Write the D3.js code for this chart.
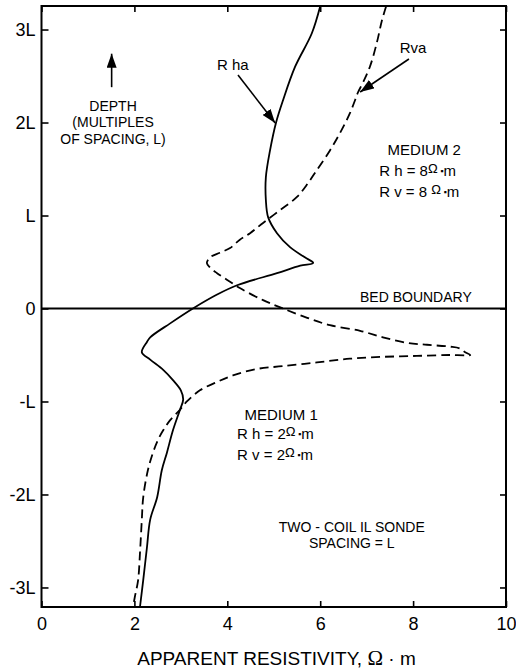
<!DOCTYPE html>
<html>
<head>
<meta charset="utf-8">
<script src="https://cdn.jsdelivr.net/npm/d3@7"></script>
<style>
  html, body { margin: 0; padding: 0; background: #fff; }
  svg { display: block; font-family: "Liberation Sans", Arial, sans-serif; }
</style>
</head>
<body>
<svg id="chart" width="516" height="672"></svg>
<script>
// Two-coil induction sonde response across a bed boundary.
// x: apparent resistivity (ohm-m), y: depth in multiples of coil spacing L.

const resTicks    = [0, 2, 4, 6, 8, 10];
const depthTicks  = [-3, -2, -1, 0, 1, 2, 3];
const depthLabels = ['-3L', '-2L', '-L', '0', 'L', '2L', '3L'];

// R ha (solid)
const rhaRes   = [6.00, 5.82, 5.46, 5.20, 5.05, 4.92, 4.83, 4.83, 4.88, 5.07, 5.35, 5.67, 5.85, 5.57, 5.07, 4.21, 3.78, 3.26,
                  2.77, 2.34, 2.27, 2.16, 2.34, 2.62, 2.83, 3.00, 3.05, 2.98, 2.83, 2.70, 2.59, 2.49, 2.34, 2.27, 2.19, 2.12];
const rhaDepth = [3.25, 2.96, 2.60, 2.24, 2.00, 1.70, 1.41, 1.17, 0.98, 0.81, 0.66, 0.55, 0.49, 0.46, 0.38, 0.25, 0.15, 0.00,
                  -0.16, -0.31, -0.36, -0.47, -0.55, -0.66, -0.77, -0.88, -0.98, -1.09, -1.31, -1.55, -1.74, -2.03, -2.27, -2.57, -2.92, -3.21];

// R va (dashed)
const rvaRes   = [7.42, 7.33, 7.22, 7.07, 6.92, 6.81, 6.75, 6.64, 6.43, 6.21, 5.93, 5.74, 5.50, 5.14, 4.77, 4.49, 4.27, 4.06, 3.84, 3.63,
                  3.56, 3.63, 3.78, 3.99, 4.27, 4.77, 5.20, 5.72, 6.21, 6.86, 7.35, 7.87, 8.30, 8.79, 9.01, 9.12, 9.23, 8.79, 8.08, 7.35,
                  6.64, 5.93, 5.20, 4.64, 4.12, 3.78, 3.41, 3.13, 2.98, 2.77, 2.62, 2.51, 2.40, 2.29, 2.19, 2.16, 2.12, 2.08, 2.01, 1.97];
const rvaDepth = [3.25, 3.10, 2.86, 2.60, 2.43, 2.32, 2.24, 2.10, 1.89, 1.70, 1.49, 1.35, 1.20, 1.06, 0.92, 0.81, 0.74, 0.65, 0.60, 0.55,
                  0.49, 0.44, 0.38, 0.31, 0.22, 0.09, 0.00, -0.10, -0.18, -0.24, -0.31, -0.37, -0.39, -0.41, -0.43, -0.47, -0.50, -0.50, -0.51, -0.52,
                  -0.54, -0.58, -0.62, -0.65, -0.72, -0.79, -0.88, -1.00, -1.09, -1.20, -1.31, -1.41, -1.55, -1.74, -2.03, -2.27, -2.63, -2.92, -3.10, -3.21];

const svg = d3.select('#chart');
const x = d3.scaleLinear().domain([0, 10]).range([41.5, 506]);
const y = d3.scaleLinear().domain([-3.21, 3.253]).range([607, 6]);
const [x0, x1] = x.range(), [y0, y1] = y.range();

// arrow head
svg.append('defs').append('marker')
  .attr('id', 'head').attr('viewBox', '0 0 14 10')
  .attr('refX', 14).attr('refY', 5)
  .attr('markerWidth', 14).attr('markerHeight', 10)
  .attr('markerUnits', 'userSpaceOnUse').attr('orient', 'auto')
  .append('path').attr('d', 'M0,0L14,5L0,10Z').attr('fill', '#000');

// -------- axes (ticks inward, mirrored on top/right) --------
function styleAxis(g) {
  g.select('.domain').remove();
  g.selectAll('.tick line').attr('stroke', '#000').attr('stroke-width', 1.6);
  g.selectAll('.tick text').attr('fill', '#000')
    .style('font-family', '"Liberation Sans", Arial, sans-serif')
    .style('font-size', '18px');
}

svg.append('g').attr('transform', `translate(0,${y0})`)
  .call(d3.axisBottom(x).tickValues(resTicks).tickSize(-6).tickPadding(10).tickFormat(d3.format('d')))
  .call(styleAxis);

svg.append('g').attr('transform', `translate(0,${y1})`)
  .call(d3.axisTop(x).tickValues(resTicks).tickSize(-6).tickFormat(''))
  .call(styleAxis);

svg.append('g').attr('transform', `translate(${x0},0)`)
  .call(d3.axisLeft(y).tickValues(depthTicks).tickSize(-7).tickPadding(6)
    .tickFormat((d, i) => depthLabels[i]))
  .call(styleAxis);

svg.append('g').attr('transform', `translate(${x1},0)`)
  .call(d3.axisRight(y).tickValues(depthTicks).tickSize(-6).tickFormat(''))
  .call(styleAxis);

// frame
svg.append('rect')
  .attr('x', x0).attr('y', y1).attr('width', x1 - x0).attr('height', y0 - y1)
  .attr('fill', 'none').attr('stroke', '#000').attr('stroke-width', 2);

// bed boundary
svg.append('line')
  .attr('x1', x0).attr('x2', x1).attr('y1', y(0)).attr('y2', y(0))
  .attr('stroke', '#000').attr('stroke-width', 2);

// -------- curves --------
const line = d3.line().x(d => x(d[0])).y(d => y(d[1])).curve(d3.curveCatmullRom.alpha(0.5));
const rha = rhaRes.map((v, i) => [v, rhaDepth[i]]);
const rva = rvaRes.map((v, i) => [v, rvaDepth[i]]);

svg.append('path').datum(rha).attr('d', line)
  .attr('fill', 'none').attr('stroke', '#000').attr('stroke-width', 1.8);
svg.append('path').datum(rva).attr('d', line)
  .attr('fill', 'none').attr('stroke', '#000').attr('stroke-width', 1.8)
  .attr('stroke-dasharray', '9,5');

// -------- annotations (placed in data units) --------
function arrow(a, b) {
  svg.append('line')
    .attr('x1', x(a[0])).attr('y1', y(a[1]))
    .attr('x2', x(b[0])).attr('y2', y(b[1]))
    .attr('stroke', '#000').attr('stroke-width', 1.6)
    .attr('marker-end', 'url(#head)');
}
function label(txt, v, d, anchor = 'middle', size = 15) {
  return svg.append('text')
    .attr('x', x(v)).attr('y', y(d))
    .attr('text-anchor', anchor)
    .attr('font-size', size)
    .text(txt);
}
// "R h = 8 Ω▪m" style line
function rLine(pre, v, d) {
  const t = svg.append('text').attr('x', x(v)).attr('y', y(d)).attr('font-size', 15);
  t.append('tspan').text(pre);
  t.append('tspan').attr('font-size', 13).attr('dy', -3).text('Ω');
  t.append('tspan').attr('font-size', 9).attr('dy', 1).text(' ▪');
  t.append('tspan').attr('dy', 2).text('m');
}

// depth arrow + caption (tight line spacing as in the original)
arrow([1.51, 2.38], [1.51, 2.74]);
label('DEPTH', 1.54, 2.125, 'middle', 14);
label('(MULTIPLES', 1.54, 1.952, 'middle', 14);
label('OF SPACING, L)', 1.54, 1.769, 'middle', 14);

// curve callouts
label('R ha', 4.12, 2.565);
arrow([4.23, 2.51], [5.03, 1.995]);
label('Rva', 8.00, 2.747);
arrow([7.91, 2.683], [6.86, 2.328]);

// medium 2
label('MEDIUM 2', 8.24, 1.65);
rLine('R h = 8', 7.27, 1.425);
rLine('R v = 8 ', 7.27, 1.199);

label('BED BOUNDARY', 8.06, 0.07, 'middle', 14);

// medium 1
label('MEDIUM 1', 5.16, -1.199);
rLine('R h = 2', 4.21, -1.403);
rLine('R v  = 2', 4.21, -1.629);

label('TWO - COIL IL SONDE', 6.68, -2.403, 'middle', 14);
label('SPACING = L', 6.68, -2.575, 'middle', 14);

// x title
const xt = svg.append('text')
  .attr('x', 276.5).attr('y', 665)
  .attr('text-anchor', 'middle').attr('font-size', 19);
xt.append('tspan').text('APPARENT RESISTIVITY,  ');
xt.append('tspan').style('font-family', '"Liberation Serif", serif').attr('font-size', 21).text('Ω');
xt.append('tspan').text(' · m');
</script>
</body>
</html>
